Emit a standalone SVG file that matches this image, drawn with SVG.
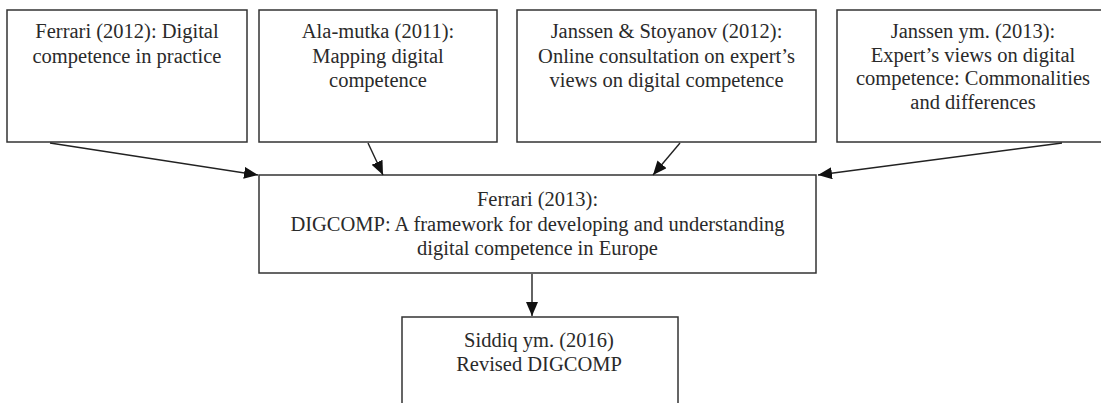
<svg xmlns="http://www.w3.org/2000/svg" width="1101" height="403" viewBox="0 0 1101 403">
<style>
.box{fill:#fff;stroke:#333;stroke-width:1.5}
.t{font-family:"Liberation Serif","Times New Roman",serif;font-size:20.5px;fill:#2a2a2a;text-anchor:middle}
.c{stroke:#222;stroke-width:1.4;fill:none;marker-end:url(#ah)}
</style>
<defs>
<marker id="ah" markerUnits="userSpaceOnUse" markerWidth="15" markerHeight="13" refX="14" refY="6" orient="auto">
<path d="M0,0 L14,6 L0,12 z" fill="#111"/>
</marker>
</defs>
<rect width="1101" height="403" fill="#fff"/>
<g id="n1">
<rect class="box" x="7" y="10" width="240" height="132"/>
<text class="t" x="127" y="38">Ferrari (2012): Digital</text>
<text class="t" x="127" y="62.5">competence in practice</text>
</g>
<g id="n2">
<rect class="box" x="259" y="10" width="238" height="132"/>
<text class="t" x="378" y="38">Ala-mutka (2011):</text>
<text class="t" x="378" y="62.5">Mapping digital</text>
<text class="t" x="378" y="87">competence</text>
</g>
<g id="n3">
<rect class="box" x="517" y="10" width="299" height="132"/>
<text class="t" x="666.5" y="38">Janssen &amp; Stoyanov (2012):</text>
<text class="t" x="666.5" y="62.5">Online consultation on expert’s</text>
<text class="t" x="666.5" y="87">views on digital competence</text>
</g>
<g id="n4">
<rect class="box" x="837" y="10" width="273" height="132"/>
<text class="t" x="973" y="38">Janssen ym. (2013):</text>
<text class="t" x="973" y="61.5">Expert’s views on digital</text>
<text class="t" x="973" y="85">competence: Commonalities</text>
<text class="t" x="973" y="108.5">and differences</text>
</g>
<g id="n5">
<rect class="box" x="259" y="175" width="557" height="98"/>
<text class="t" x="537.5" y="206">Ferrari (2013):</text>
<text class="t" x="537.5" y="230.5">DIGCOMP: A framework for developing and understanding</text>
<text class="t" x="537.5" y="255">digital competence in Europe</text>
</g>
<g id="n6">
<rect class="box" x="402" y="317" width="276" height="100"/>
<text class="t" x="539" y="347">Siddiq ym. (2016)</text>
<text class="t" x="539" y="371">Revised DIGCOMP</text>
</g>
<g id="connectors">
<line class="c" x1="50" y1="143" x2="258" y2="175"/>
<line class="c" x1="368" y1="143" x2="383" y2="175"/>
<line class="c" x1="680" y1="143" x2="653" y2="175"/>
<line class="c" x1="1062" y1="143" x2="818" y2="175"/>
<line class="c" x1="532" y1="274" x2="532" y2="316"/>
</g>
</svg>
